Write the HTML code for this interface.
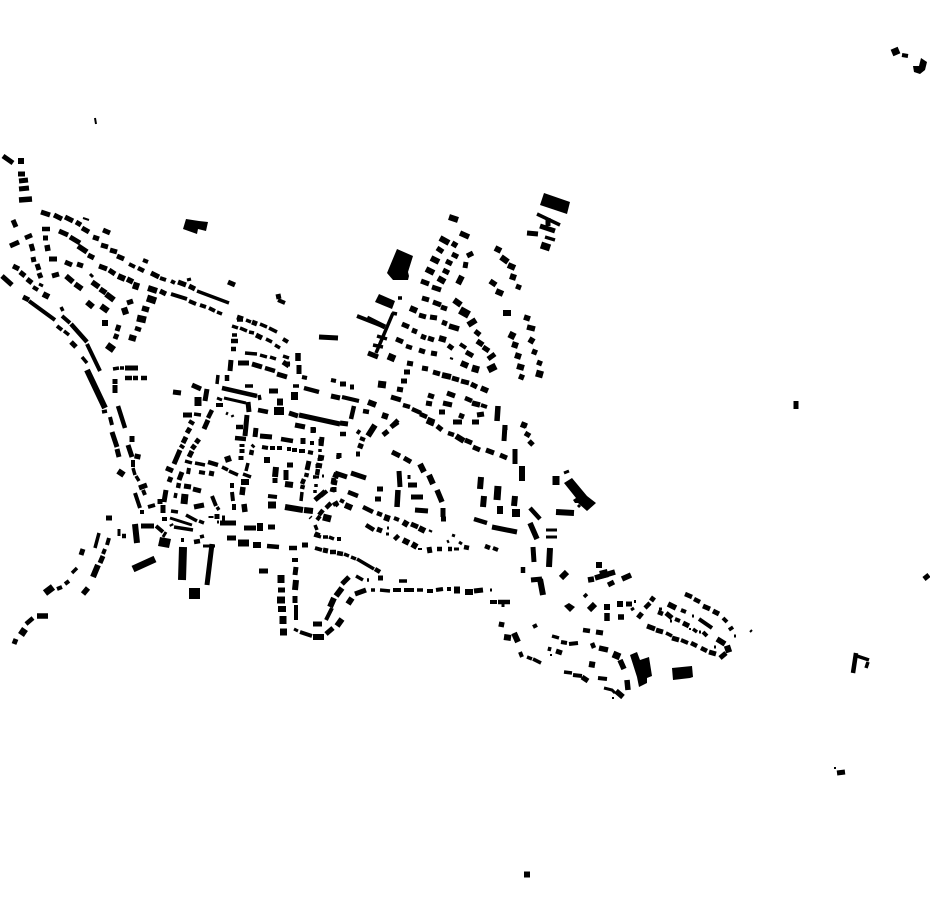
<!DOCTYPE html>
<html><head><meta charset="utf-8"><title>Figure-ground plan</title>
<style>html,body{margin:0;padding:0;background:#fff}svg{display:block}path.l{fill:none;stroke:#000}</style></head>
<body>
<svg width="930" height="924" viewBox="0 0 930 924" xmlns="http://www.w3.org/2000/svg">
<g fill="#000">
<path d="M186 219L199 221L208 222L206 231L198 229L197 234L183 229Z"/>
<path d="M544 193L570 202L567 214L540 205Z"/>
<path d="M397 249L413 256L408 272L409 276L408 280L393 280L387 273Z"/>
<path d="M379 294L395 301L392 309L375 302Z"/>
<path d="M572 478L587 496L596 503L587 511L578 503L575 503L573 500L576 498L564 483Z"/>
<path d="M630 655L637 652L640 660L649 657L652 676L647 678L647 683L639 687L637 677Z"/>
<path d="M672 668L692 666L693 677L690 678L673 680Z"/>
<path d="M189 588H200V599H189Z"/>
<path d="M160 537L171 539L169 548L158 546Z"/>
<path d="M569 603L575 607L570 612L564 606Z"/>
<path d="M921 58L927 62L925 70L920 74L914 72L913 66L919 66Z"/>
</g>
<path class="l" stroke-width="2" d="M83 218L89 220M95 118L96 124M450 358L453 359M750 632L752 630M612 698L614 698M834 768L836 768M635 600L635 603M550 655L552 655M689 629L691 629"/>
<path class="l" stroke-width="3" d="M187 280L191 279M90 274L93 277M39 284L43 286M226 413L228 414M232 415L233 417M217 398L222 400M224 398L246 403M170 518L192 525M119 529L119 536M203 546L215 546M166 532L163 537M217 522L219 522M322 476L324 476M316 477L319 477M409 475L409 479M454 549L459 549M459 542L462 544M447 542L449 541M452 535L455 536M387 528L389 528M386 534L389 534M490 590L492 590M631 610L634 608M546 530L557 530M546 537L557 537M564 473L569 471M604 688L612 690L615 693M294 629L298 631M692 616L694 616M670 621L672 621M714 647L716 647M734 636L736 636M555 637L557 637M578 507L580 505M699 632L701 632M659 609L662 609M503 604L503 607"/>
<path class="l" stroke-width="3.5" d="M197 291L229 303M61 307L63 311M64 331L69 335M82 357L87 363M113 369L119 368M120 368L124 368M217 312L222 314M218 375L217 384M102 412L107 411M293 386L299 386M245 386L253 386M259 395L260 400M194 414L201 415M185 461L192 463M222 467L228 470M229 471L238 475M243 474L251 477M248 463L246 471M302 492L301 501M195 463L205 465M133 468L135 475M136 476L139 481M176 493L175 498M171 511L178 512M217 507L219 510M186 515L197 521M199 521L204 523M174 527L193 530M200 537L204 536M99 533L95 548M77 568L72 573M393 313L376 353M373 345L383 347M377 336L387 339M545 237L555 240M537 214L560 225M314 535L321 537M323 537L328 537M329 537L334 539M344 554L349 556M351 557L356 559M357 559L374 569M356 576L363 580M367 580L369 580M399 581L407 581M371 590L375 590M380 590L390 591M417 590L423 590M431 530L430 532M237 320L243 320M246 320L251 322M260 324L267 327M269 328L277 332M249 332L254 333M266 339L272 342M275 345L280 348M232 335L237 335M245 353L257 354M260 355L267 357M270 357L276 359M283 356L289 358M232 326L238 328M240 328L247 331M857 656L869 660M868 662L866 668M584 597L587 594M527 657L532 659M533 659L541 663M552 636L559 638M564 672L572 673M550 647L549 651M693 629L697 632M666 633L672 636M315 525L317 530M315 533L320 535M313 477L316 477M320 449L320 452M338 455L338 459M316 484L316 487M315 490L315 493M398 298L402 298M392 313L397 314"/>
<path class="l" stroke-width="4" d="M129 264L135 267M171 294L187 299M160 278L166 280M171 281L175 283M189 301L196 304M200 305L206 307M209 308L215 311M33 287L38 290M29 301L55 320M62 316L70 323M57 326L62 330M87 344L100 371M143 260L148 262M302 377L307 378M331 380L336 381M216 405L223 405M110 417L112 425M189 421L194 424M254 445L252 447M262 447L268 448M270 448L275 448M277 448L282 448M287 449L291 449M292 450L297 450M299 451L305 451M308 452L313 453M268 496L277 497M133 460L133 467M143 490L145 495M135 493L140 508M142 510L142 514M148 507L155 505M189 468L188 474M199 472L205 473M212 496L216 506M232 483L232 488M232 492L233 501M234 504L234 510M162 519L167 519M171 524L172 526M156 526L163 532M181 540L184 540M292 560L298 560M315 548L322 550M109 538L107 545M105 549L103 554M57 589L62 587M65 584L69 581M300 632L312 636M337 539L341 539M342 397L359 401M360 438L365 440M340 500L344 502M335 503L338 506M321 496L327 491M333 505L338 502M317 520L320 516M394 518L399 520M481 405L487 407M420 548L420 550M493 548L498 550M393 590L401 590M404 590L414 590M427 591L433 591M436 590L443 589M447 589L451 589M326 620L332 608M296 605L296 620M902 55L908 56M533 627L537 625M561 642L567 643M569 644L578 643M573 675L582 676M598 678L607 679M460 344L466 348M723 618L727 622M699 619L712 628M703 632L707 636M681 640L688 643M681 610L686 612M675 619L680 621M283 339L288 342M278 300L285 303M310 517L311 518M357 316L385 327M310 443L314 443M490 602L497 602M520 652L522 657"/>
<path class="l" stroke-width="4.5" d="M42 229L50 229M25 238L32 235M135 328L141 330M71 324L87 342M138 268L144 271M125 378L132 378M133 378L138 378M141 378L147 378M227 375L227 381M265 368L275 371M304 388L319 392M222 388L257 396M258 410L268 412M212 410L208 418M236 427L243 427M235 438L246 439M281 439L293 441M252 450L251 455M208 462L218 465M118 406L125 428M179 483L178 488M194 542L200 541M122 536L126 536M267 546L279 547M289 548L297 548M330 552L336 552M26 624L33 618M406 346L412 348M412 409L421 413M420 414L427 417M465 398L472 401M354 406L351 419M363 411L369 412M398 420L391 427M357 431L360 433M325 491L315 500M326 508L331 503M319 515L323 510M348 492L358 496M363 507L373 512M377 513L382 515M366 525L374 530M474 519L487 523M437 549L442 549M448 549L452 549M464 547L469 548M485 546L490 548M337 553L343 554M375 569L380 572M231 341L238 341M231 349L236 349M317 475L318 469M307 473L306 477M304 479L302 484M303 485L302 489M853 673L856 653M530 508L540 519M523 567L523 573M658 612L663 614M645 608L650 603M685 594L692 597M694 599L700 602M691 643L697 646M701 648L707 651M592 643L594 648M583 630L590 631M340 434L346 434M403 405L410 407M448 433L454 435M498 602L510 602"/>
<path class="l" stroke-width="5" d="M3 156L13 163M18 174L25 174M19 181L28 180M19 189L29 188M41 212L50 215M54 215L62 219M65 217L73 221M76 222L81 225M82 228L89 232M103 230L110 233M93 237L99 239M101 245L108 247M117 256L124 259M110 250L117 252M151 273L159 277M178 282L186 285M189 286L195 289M228 282L235 285M13 220L16 227M10 246L19 242M43 238L48 238M31 244L33 251M33 257L34 262M37 264L39 270M39 273L41 278M49 259L57 259M13 266L19 269M20 272L25 276M27 279L32 283M2 276L12 285M23 297L29 300M71 342L76 347M52 276L59 274M65 262L72 265M77 264L83 266M59 231L68 235M70 237L80 243M88 255L94 258M99 266L107 269M109 270L115 274M160 291L166 294M127 303L133 301M119 325L117 331M117 334L115 339M125 368L138 368M115 379L115 384M115 385L115 393M192 385L201 389M173 392L181 393M231 360L230 371M238 363L249 363M252 364L262 367M277 374L287 377M299 365L299 374M269 391L278 391M283 362L289 366M207 389L205 401M248 402L249 412M289 413L298 416M299 415L340 424M331 396L340 398M183 415L192 415M208 420L204 429M190 428L187 433M186 437L183 443M183 445L181 448M180 450L174 464M199 439L196 443M195 445L192 449M192 451L189 457M247 415L245 436M256 428L255 437M260 436L272 437M295 425L305 427M311 430L316 430M322 437L321 446M242 444L242 447M242 449L242 453M241 456L241 460M287 465L293 465M309 461L307 470M318 457L324 458M316 465L322 466M275 478L275 483M286 470L286 480M315 500L321 495M333 488L332 492M132 436L132 442M128 445L132 457M112 432L117 447M117 449L119 457M139 488L147 485M160 499L160 504M166 490L164 502M171 477L169 482M166 468L173 471M182 472L179 480M184 486L191 487M193 489L201 491M209 473L214 474M163 505L163 513M194 507L204 505M211 516L211 518M217 514L217 519M222 518L225 518M220 523L236 523M244 528L256 528M268 527L275 527M141 526L154 526M106 518L112 518M227 538L236 538M302 545L308 545M323 550L328 551M259 571L268 571M296 567L295 575M278 590L285 590M295 596L295 603M103 556L100 563M14 644L16 639M83 549L81 555"/>
<path class="l" stroke-width="5" d="M437 248L443 252M452 254L458 257M467 256L473 253M446 261L452 264M466 262L465 268M443 270L449 273M421 281L429 284M432 287L441 290M422 298L429 300M433 302L441 305M441 307L447 309M475 331L480 335M483 347L489 351M488 359L495 354M466 352L473 356M402 324L409 327M412 330L417 332M421 336L426 338M428 338L434 340M442 322L447 324M430 317L437 318M419 315L426 317M396 339L403 342M419 350L425 352M431 353L437 354M407 363L413 364M404 372L410 372M401 381L407 381M397 389L403 390M391 397L401 400M422 368L428 369M433 372L440 374M452 378L459 380M461 381L469 383M471 384L477 387M428 395L434 397M426 403L432 404M439 412L445 412M447 393L455 396M443 403L452 405M477 415L484 414M472 422L479 422M453 422L462 422M459 415L464 417M522 424L527 426M505 425L505 430M516 286L521 288M537 362L542 364M340 384L346 384M350 387L354 387M340 423L348 424M383 435L388 431M391 427L398 422M313 427L313 433M303 438L303 444M321 439L321 445M358 445L363 447M356 454L360 454M339 453L339 458M320 458L320 461M318 464L318 468M392 452L400 456M404 458L411 462M443 508L443 517M441 519L446 519M399 471L400 487M408 485L417 485M377 489L383 489M375 499L381 499M411 497L423 497M415 510L428 511M335 473L347 477M334 478L333 484M351 473L366 478M334 487L334 492M377 529L382 531M429 547L430 553M411 524L418 527M515 449L515 464M505 425L504 441M525 433L530 436M529 441L533 445M429 422L434 424M437 426L442 430M465 440L472 443M473 447L480 450M486 450L494 453M500 455L507 458M492 527L517 532M355 594L366 590M349 577L342 584M333 628L326 634M313 624L322 624M474 591L483 590M378 578L383 578M924 579L929 575M796 401L796 409M837 773L845 772M533 547L534 562M531 580L542 579M608 585L614 582M638 618L642 613M651 601L654 597M603 633L596 632M626 604L632 604M556 651L562 653M582 677L588 681M647 626L655 629M656 630L663 632M672 638L679 640M709 652L716 654M703 606L710 609M713 611L719 614M720 658L726 653M683 623L689 626M666 613L672 618M730 627L732 630M319 337L338 338M278 294L279 299M285 364L290 364M237 317L243 319M252 322L257 324M256 335L262 338"/>
<path class="l" stroke-width="5.5" d="M19 200L32 199M47 245L48 251M78 246L87 252M127 279L133 282M66 276L73 282M75 284L82 289M92 282L99 287M100 289L106 293M142 308L149 310M335 480L334 485M243 487L242 495M244 504L245 512M37 616L48 616M83 594L88 588M460 233L469 237M452 243L457 246M477 341L483 345M449 326L459 329M481 388L488 391M524 317L530 319M527 327L535 329M532 351L537 353M519 376L524 378M490 281L496 285M398 490L397 507M437 490L442 502M498 406L497 421M472 403L480 405M530 523L537 539M622 579L631 575M620 660L624 669M502 622L501 627M627 680L628 690M618 617L624 617M607 613L607 621M668 604L676 608M599 648L608 650M588 580L594 579M595 578L615 572M623 697L616 691M298 353L298 361M717 639L725 644"/>
<path class="l" stroke-width="6" d="M18 161L24 161M87 370L105 408M43 294L49 297M118 276L125 279M148 288L157 291M129 337L136 339M106 294L114 300M87 302L93 307M101 306L108 311M102 323L108 323M138 454L137 459M135 524L137 543M118 471L124 475M225 460L231 458M267 457L267 463M276 467L275 477M285 484L293 485M285 507L303 510M304 510L313 511M337 473L335 478M253 545L261 545M296 580L295 590M260 523L260 531M431 258L439 262M426 269L434 273M438 278L445 282M440 238L449 243M449 217L458 220M462 276L458 284M454 300L461 305M468 325L476 320M410 308L417 311M439 338L446 340M442 375L451 377M461 363L468 366M449 349L452 345M495 248L501 251M501 257L508 262M508 265L515 268M510 276L516 278M496 291L503 294M503 313L511 313M529 339L534 342M512 344L518 346M515 355L521 357M517 366L524 368M368 402L376 405M382 415L388 417M368 436L375 425M345 505L352 508M388 515L386 521M403 522L408 525M419 528L425 531M395 536L398 539M403 540L409 543M412 544L417 547M420 464L424 472M429 475L433 484M481 477L480 489M484 496L483 507M515 496L514 506M500 506L500 514M522 466L522 481M456 436L464 441M521 424L526 426M352 598L348 604M342 619L337 626M342 588L336 596M334 598L330 607M465 592L473 592M550 548L549 567M599 562L599 568M540 579L543 595M556 512L574 513M514 633L518 642M504 637L511 638M589 664L595 665M589 610L595 604M604 607L610 607M617 604L623 604M561 578L567 572M278 609L286 609M524 874.5L530 874.5M93 577L98 565M313 637L324 637"/>
<path class="l" stroke-width="7" d="M122 312L128 310M137 318L146 320M147 298L156 301M133 285L139 287M107 345L114 350M21 635L25 629M45 593L53 587M198 397L198 406M185 494L184 504M277 402L283 402M268 505L276 505M238 543L249 543M133 569L155 559M323 517L331 519M388 356L395 359M541 245L550 248M378 384L386 385M472 368L479 370M488 370L496 366M536 373L543 375M509 334L515 337M427 420L434 423M556 476L556 485M281 575L281 583M277 600L285 600M283 616L283 624M280 632L287 632M613 654L620 657M498 486L497 500M454 590L460 590M892 53L899 50M725 650L731 648"/>
<path class="l" stroke-width="8" d="M291 396L298 396M274 411L284 411M245 479L245 485M183 547L182 580M460 310L469 315M516 509L516 517M603 570L605 578"/>
<path class="l" stroke-width="5" d="M212 544L207 585M548 218L548 226M540 226L555 231M527 233L538 234M368 353L378 357M367 318L385 327"/>
</svg>
</body></html>
